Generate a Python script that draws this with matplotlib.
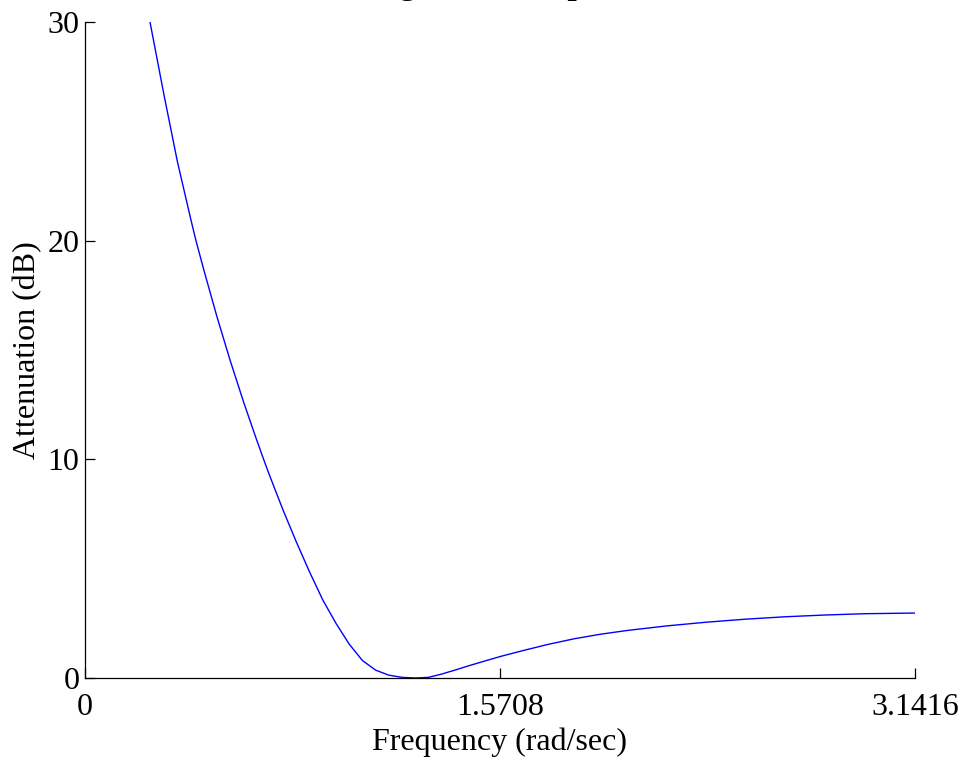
import numpy as np
import matplotlib.pyplot as plt

# --- Data ---
freq = [0.246, 0.30, 0.35, 0.40, 0.42, 0.45, 0.50, 0.55, 0.60, 0.65,
        0.68, 0.70, 0.75, 0.80, 0.85, 0.90, 0.95, 1.00, 1.05, 1.10,
        1.15, 1.20, 1.25, 1.30, 1.35, 1.40, 1.45, 1.50, 1.571, 1.65,
        1.75, 1.85, 1.95, 2.05, 2.20, 2.35, 2.50, 2.65, 2.80, 2.95,
        3.1416]
atten = [30.0, 26.6, 23.6, 21.0, 20.0, 18.65, 16.5, 14.5, 12.63, 10.88,
         9.87, 9.22, 7.67, 6.22, 4.85, 3.57, 2.5, 1.55, 0.8, 0.36,
         0.13, 0.03, 0.0, 0.03, 0.18, 0.36, 0.55, 0.73, 0.98, 1.23,
         1.53, 1.79, 2.0, 2.17, 2.38, 2.55, 2.69, 2.8, 2.88, 2.94,
         2.97]

xticks = [0, np.pi / 2, np.pi]
xticklabels = ["0", "1.5708", "3.1416"]
yticks = [0, 10, 20, 30]

FONT = "Liberation Serif"
FS = 23

plt.rcParams["font.family"] = FONT

fig = plt.figure(figsize=(9.67, 7.61), dpi=100)
ax = fig.add_axes([85 / 967, 83 / 761, 830 / 967, 656 / 761])

ax.plot(freq, atten, color="#0000ff", linewidth=1.0)

ax.set_xlim(0, np.pi)
ax.set_ylim(0, 30)
ax.set_xticks(xticks)
ax.set_xticklabels(xticklabels)
ax.set_yticks(yticks)

ax.spines["top"].set_visible(False)
ax.spines["right"].set_visible(False)
for spine in ax.spines.values():
    spine.set_linewidth(0.9)

ax.tick_params(direction="in", length=7, width=0.9, labelsize=FS)
ax.tick_params(axis="x", pad=11)
ax.tick_params(axis="y", pad=4)

ax.set_xlabel("Frequency (rad/sec)", fontsize=FS, labelpad=4)
ax.set_ylabel("Attenuation (dB)", fontsize=FS, labelpad=4)

# title sits mostly above the canvas, only descenders visible
fig.text(500 / 967, 1 + 6 / 761, "Magnitude Response", ha="center",
         va="baseline", fontsize=24, fontweight="bold")

fig.savefig("out.png", dpi=100)
